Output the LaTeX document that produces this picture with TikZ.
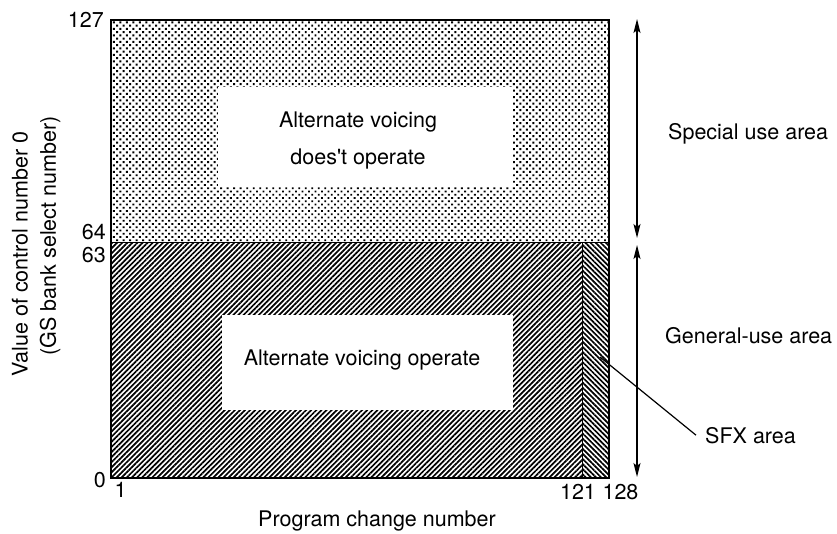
\documentclass[tikz,border=0pt]{standalone}
\usepackage{fontspec}
\setmainfont{TeX Gyre Heros}
\usetikzlibrary{patterns.meta,arrows.meta}
\begin{document}
\begin{tikzpicture}[x=1pt,y=-1pt,
  lbl/.style={inner sep=0pt,font=\fontsize{21.5}{26}\selectfont},
  whitebox/.style={fill=white,draw=none,inner sep=0pt},
  frame/.style={line width=1.5pt},
  dim/.style={line width=1.4pt,{Stealth[length=14pt,width=7pt,inset=3pt]}-{Stealth[length=14pt,width=7pt,inset=3pt]}}
]
\useasboundingbox (0,0) rectangle (837,533);
% regions
\fill[pattern={Dots[distance=4.6pt,radius=1.35pt,angle=45]}] (111,20) rectangle (609,242);
\fill[pattern={Lines[angle=45,distance=3.6pt,line width=1.7pt]}] (111,242) rectangle (582,478);
\fill[pattern={Lines[angle=-45,distance=3.6pt,line width=1.7pt]}] (582,242) rectangle (609,478);
\draw[line width=1pt] (111,242) -- (609,242);
\draw[line width=1pt] (582,242) -- (582,478);
\draw[frame] (111,20) rectangle (609,478);
% white boxes
\node[whitebox,minimum width=295pt,minimum height=100pt] (ubox) at (365.5,137) {};
\node[whitebox,minimum width=291pt,minimum height=95pt] (lbox) at (367.5,362.5) {};
\node[lbl,align=center,font=\fontsize{21.5}{37}\selectfont] (utext) at (358,141) {Alternate voicing\\does\textquotesingle t operate};
\node[lbl] (ltext) at (362,360) {Alternate voicing operate};
% axis numbers
\node[lbl,anchor=east] (n127) at (104,20) {127};
\node[lbl,anchor=east] (n64) at (106,232) {64};
\node[lbl,anchor=east] (n63) at (106,255) {63};
\node[lbl,anchor=east] (n0) at (106,480) {0};
\node[lbl] (n1) at (120.5,490) {1};
\node[lbl] (n121) at (578,492) {121};
\node[lbl] (n128) at (620.5,492) {128};
\node[lbl] (xlab) at (377,521) {Program change number};
\node[lbl,rotate=90] (ylab1) at (20,254) {Value of control number 0};
\node[lbl,rotate=90] (ylab2) at (50,236) {(GS bank select number)};
% arrows
\coordinate (a1) at (637,19);
\coordinate (a2) at (637,238);
\coordinate (a3) at (637,245);
\coordinate (a4) at (637,477);
\draw[dim] (a1) -- (a2);
\draw[dim] (a3) -- (a4);
% right labels
\node[lbl,anchor=base west] (special) at (668,139) {Special use area};
\node[lbl,anchor=base west] (general) at (665,343) {General-use area};
\node[lbl,anchor=base west] (sfx) at (705,443) {SFX area};
\coordinate (sfxpt) at (600,357);
\draw[line width=1.2pt] (sfxpt) -- ([xshift=-9pt]sfx.west);
\end{tikzpicture}
\end{document}
